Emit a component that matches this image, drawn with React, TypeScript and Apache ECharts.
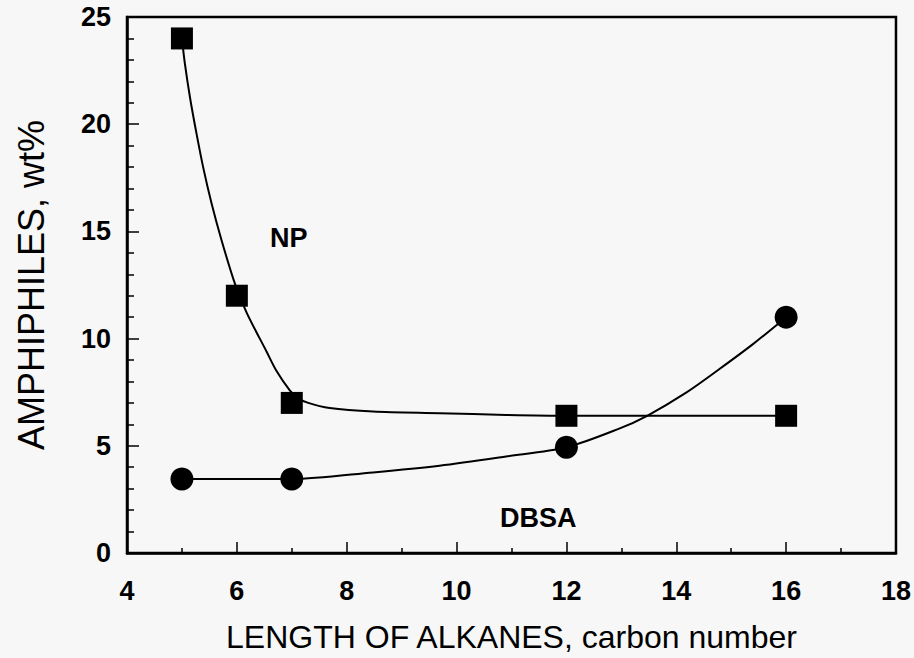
import React, { useEffect, useRef } from "react";
import * as echarts from "echarts";

// Measured points (carbon number, wt%)
const npPoints: [number, number][] = [
  [5, 24], [6, 12], [7, 7], [12, 6.4], [16, 6.4],
];
const dbsaPoints: [number, number][] = [
  [5, 3.45], [7, 3.45], [12, 4.93], [16, 11],
];

// Fitted curves
const npCurve: [number, number][] = [
  [5, 24], [5.05, 22.9], [5.15, 21.2], [5.27, 19.5], [5.39, 17.95], [5.54, 16.3],
  [5.72, 14.6], [5.96, 12.6], [6.18, 11.2], [6.54, 9.4], [6.72, 8.5],
  [6.96, 7.6], [7.1, 7.25], [7.3, 7.0], [7.69, 6.76],
  [8.48, 6.6], [9.69, 6.52], [10.9, 6.44], [12, 6.4], [16, 6.4],
];
const dbsaCurve: [number, number][] = [
  [5, 3.45], [7, 3.45], [8.48, 3.76], [9.69, 4.07], [10.9, 4.5], [12, 4.93],
  [12.96, 5.8], [13.47, 6.4], [14.18, 7.48], [14.78, 8.57], [15.39, 9.73], [16, 11],
];

const xTicks = { min: 4, max: 18, interval: 2 };
const yTicks = { min: 0, max: 25, interval: 5 };

const FONT = "'Liberation Sans', Arial, Helvetica, sans-serif";

export default function App() {
  const ref = useRef<HTMLDivElement>(null);
  useEffect(() => {
    if (!ref.current) return;
    const chart = echarts.init(ref.current, null, { renderer: "svg" });
    const axisCommon = {
      axisLine: { show: true, onZero: false, lineStyle: { color: "#000", width: 2.5 } },
      splitLine: { show: false },
    };
    chart.setOption({
      animation: false,
      backgroundColor: "#f7f7f7",
      textStyle: { fontFamily: FONT },
      grid: {
        left: 127, right: 17, top: 17, bottom: 104,
        show: true, borderColor: "#000", borderWidth: 2.5, backgroundColor: "transparent",
      },
      xAxis: {
        type: "value",
        ...xTicks,
        ...axisCommon,
        axisTick: { show: true, inside: true, length: 11, lineStyle: { color: "#000", width: 1.5 } },
        minorTick: { show: true, splitNumber: 2, length: 5, lineStyle: { color: "#000", width: 1.5 } },
        axisLabel: { color: "#000", fontSize: 27, fontWeight: "bold", margin: 24, fontFamily: FONT },
        name: "LENGTH OF ALKANES, carbon number",
        nameLocation: "middle",
        nameGap: 68,
        nameTextStyle: { color: "#000", fontFamily: FONT, fontSize: 32 },
      },
      yAxis: {
        type: "value",
        ...yTicks,
        ...axisCommon,
        axisTick: { show: true, inside: true, length: 12, lineStyle: { color: "#000", width: 1.5 } },
        minorTick: { show: true, splitNumber: 5, length: 7, lineStyle: { color: "#000", width: 1.5 } },
        axisLabel: { color: "#000", fontSize: 27, fontWeight: "bold", margin: 16, fontFamily: FONT },
        name: "AMPHIPHILES, wt%",
        nameLocation: "middle",
        nameGap: 78,
        nameTextStyle: { color: "#000", fontFamily: FONT, fontSize: 36 },
      },
      series: [
        {
          name: "NP fit", type: "line", data: npCurve, smooth: 0.3,
          showSymbol: false, lineStyle: { color: "#000", width: 2 }, z: 2,
        },
        {
          name: "DBSA fit", type: "line", data: dbsaCurve, smooth: 0.3,
          showSymbol: false, lineStyle: { color: "#000", width: 2 }, z: 2,
        },
        {
          name: "NP", type: "scatter", data: npPoints, symbol: "rect", symbolSize: 22,
          itemStyle: { color: "#000", opacity: 1 }, z: 3,
        },
        {
          name: "DBSA", type: "scatter", data: dbsaPoints, symbol: "circle", symbolSize: 23,
          itemStyle: { color: "#000", opacity: 1 }, z: 3,
        },
      ],
      graphic: [
        { type: "text", left: 270, top: 224, style: { text: "NP", fontSize: 27, fontWeight: "bold", fontFamily: FONT, fill: "#000" } },
        { type: "text", left: 500, top: 504, style: { text: "DBSA", fontSize: 27, fontWeight: "bold", fontFamily: FONT, fill: "#000" } },
      ],
    });
    return () => chart.dispose();
  }, []);
  return (
    <div
      ref={ref}
      style={{ position: "fixed", left: 0, top: 0, width: 914, height: 658 }}
    />
  );
}
